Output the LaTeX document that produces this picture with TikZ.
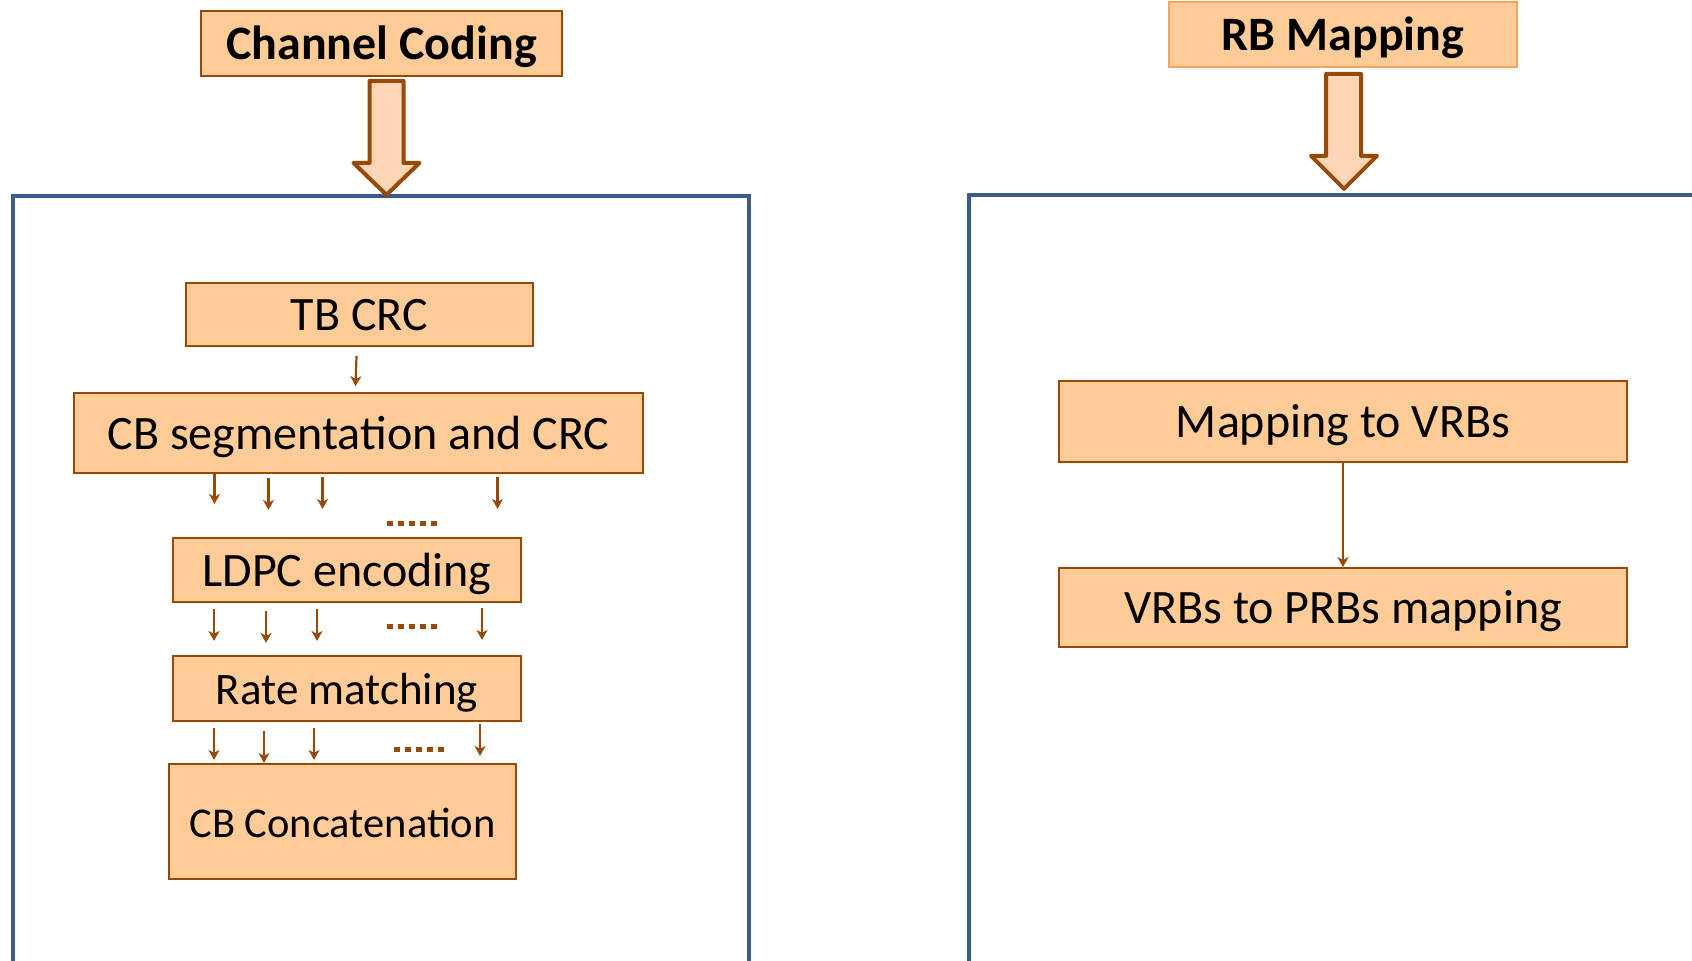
\documentclass[tikz,border=0pt]{standalone}
\usepackage{fontspec}
\setmainfont{Carlito}
\usetikzlibrary{arrows.meta,calc}

\definecolor{boxfill}{HTML}{FFCB96}
\definecolor{boxline}{HTML}{984807}
\definecolor{lightline}{HTML}{F9A35C}
\definecolor{arrowfill}{HTML}{FDD6B5}
\definecolor{frameblue}{HTML}{385D8A}

\begin{document}
\begin{tikzpicture}[x=1pt,y=-1pt,
  box/.style={draw=boxline, fill=boxfill, line width=1.8pt, inner sep=0pt,
    font=\fontsize{48}{58}\selectfont, text height=40pt, text depth=8pt},
  frame/.style={draw=frameblue, line width=4pt},
  bigarrow/.style={draw=boxline, fill=arrowfill, line width=4pt, line join=round},
  sarrow/.style={draw=boxline, line width=2.2pt, -{Stealth[length=10pt,width=11pt,inset=3pt]}},
  dots/.style={draw=boxline, line width=5pt, dash pattern=on 6pt off 5pt}]

\useasboundingbox (0,0) rectangle (1692,961);
\clip (0,0) rectangle (1692,961);

% outer frames of the two blocks
\draw[frame] (13,196) rectangle (749,990);
\draw[frame] (969,195) rectangle (1720,962.5);

% headings
\node[box, minimum width=361pt, minimum height=65pt] (cc) at (381.5,43.5) {\bfseries Channel Coding};
\node[box, draw=lightline, minimum width=348pt, minimum height=65pt] (rb) at (1343,34.5) {\bfseries RB Mapping};

% block arrows below the headings
\draw[bigarrow] ($(cc.south)+(-12,4)$) -- ++(34,0) -- ++(0,82) -- ++(16,0)
  -- ++(-33,32) -- ++(-33,-32) -- ++(16,0) -- cycle;
\draw[bigarrow] ($(rb.south)+(-17,6)$) -- ++(35,0) -- ++(0,82) -- ++(16,0)
  -- ++(-33,33) -- ++(-33,-33) -- ++(15,0) -- cycle;

% channel coding chain
\node[box, minimum width=347pt, minimum height=63pt] (tb) at (359.5,314.5) {TB CRC};
\node[box, minimum width=569pt, minimum height=80pt] (cbseg) at (358.5,433) {CB segmentation and CRC};
\node[box, minimum width=348pt, minimum height=64pt] (ldpc) at (347,570) {LDPC encoding};
\node[box, minimum width=348pt, minimum height=65pt, font=\fontsize{45}{54}\selectfont] (rm) at (347,688.5) {Rate matching};
\node[box, minimum width=347pt, minimum height=115pt, font=\fontsize{42.5}{51}\selectfont] (cbcat) at (342.5,821.5) {CB Concatenation};

\draw[sarrow] ($(tb.south)+(-3,9)$) -- ($(cbseg.north)+(-3,-6)$);

% code-block branches after segmentation
\draw[sarrow] ($(cbseg.south)+(-144,-2)$) -- ++(0,32);
\draw[sarrow] ($(cbseg.south)+(-90,4)$) -- ++(0,32);
\draw[sarrow] ($(cbseg.south)+(-36,3)$) -- ++(0,32);
\draw[sarrow] ($(cbseg.south)+(139,3)$) -- ++(0,32);
\draw[dots] ($(ldpc.north)+(40,-14)$) -- ++(50,0);

% branches after LDPC encoding
\draw[sarrow] ($(ldpc.south)+(-133,6)$) -- ++(0,32);
\draw[sarrow] ($(ldpc.south)+(-81,8)$) -- ++(0,32);
\draw[sarrow] ($(ldpc.south)+(-30,6)$) -- ++(0,32);
\draw[sarrow] ($(ldpc.south)+(135,5)$) -- ++(0,32);
\draw[dots] ($(ldpc.south)+(40,24)$) -- ++(50,0);

% branches after rate matching
\draw[sarrow] ($(rm.south)+(-133,6)$) -- ++(0,32);
\draw[sarrow] ($(rm.south)+(-83,9)$) -- ++(0,32);
\draw[sarrow] ($(rm.south)+(-33,6)$) -- ++(0,32);
\draw[sarrow] ($(rm.south)+(133,2)$) -- ++(0,32);
\draw[dots] ($(rm.south)+(47,28)$) -- ++(50,0);

% resource block mapping chain
\node[box, minimum width=568pt, minimum height=81pt] (map) at (1343,421.5) {Mapping to VRBs};
\node[box, minimum width=568pt, minimum height=79pt] (vp) at (1343,607.5) {VRBs to PRBs mapping};
\draw[sarrow] (map.south) -- (vp.north);

\end{tikzpicture}
\end{document}
